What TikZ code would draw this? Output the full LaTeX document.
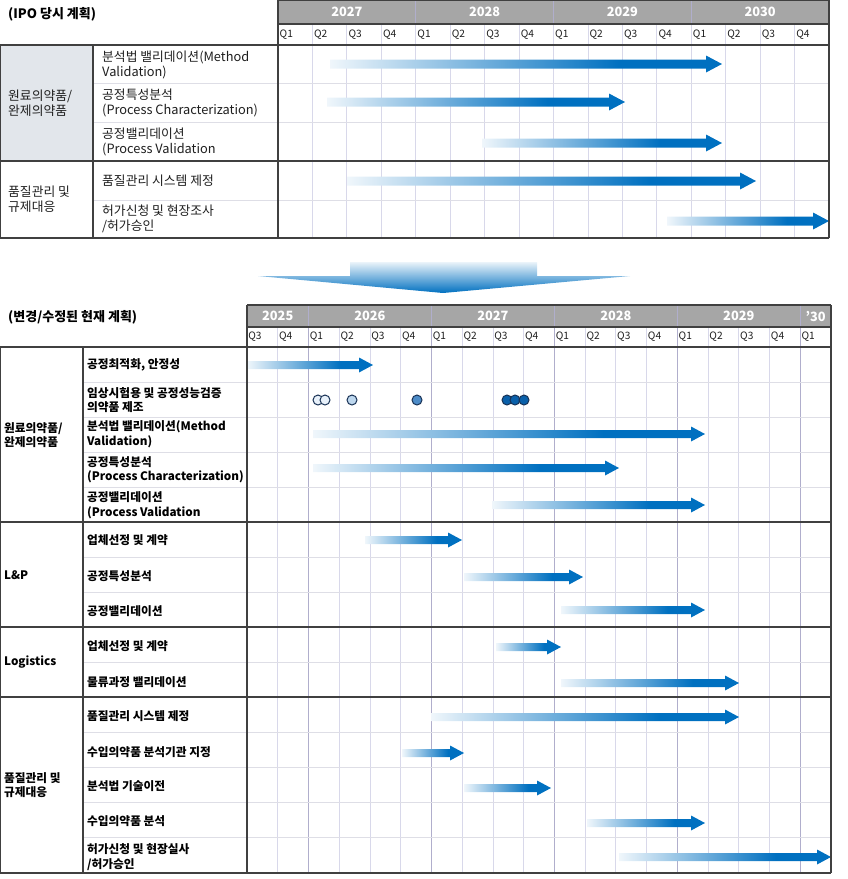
\documentclass[tikz,border=0pt]{standalone}
\usepackage{fontspec}
\setmainfont{Noto Sans CJK KR}
\definecolor{gblue}{RGB}{0,112,192}
\definecolor{hdrgray}{RGB}{166,166,166}
\definecolor{gridc}{RGB}{216,216,234}
\definecolor{yrline}{RGB}{176,174,204}
\definecolor{rowc}{RGB}{222,222,230}
\definecolor{darkln}{RGB}{64,64,64}
\definecolor{grpfill}{RGB}{226,230,235}
\definecolor{txt}{RGB}{30,30,30}
\definecolor{dotln}{RGB}{25,50,85}
\definecolor{dotA}{RGB}{232,241,250}
\definecolor{dotB}{RGB}{189,215,238}
\definecolor{dotC}{RGB}{77,140,200}
\definecolor{dotD}{RGB}{10,96,170}
\pgfdeclarehorizontalshading{gshade}{100bp}{color(0bp)=(gblue!6); color(25bp)=(gblue!6); color(62bp)=(gblue); color(100bp)=(gblue)}
\newcommand\ganttarrow[6]{%
  \shade[shading=gshade] ({#1},{#3-#4}) -- ({#2-#6},{#3-#4}) -- ({#2-#6},{#3-#5}) -- ({#2},{#3}) -- ({#2-#6},{#3+#5}) -- ({#2-#6},{#3+#4}) -- ({#1},{#3+#4}) -- cycle;}
\newcommand\toparr[3]{\ganttarrow{#1}{#2}{#3}{4.5}{8.5}{16}}
\newcommand\botarr[3]{\ganttarrow{#1}{#2}{#3}{4}{7.5}{14}}
\begin{document}
\begin{tikzpicture}[x=1pt,y=-1pt,
  lbl/.style={anchor=west, align=left, inner sep=0pt, text=txt, font=\fontsize{12.8}{15}\selectfont},
  blbl/.style={anchor=west, align=left, inner sep=0pt, text=black, font=\bfseries\fontsize{11.7}{14.5}\selectfont},
  yr/.style={text=white, font=\bfseries\fontsize{12.8}{14}\selectfont, inner sep=0pt},
  qq/.style={anchor=west, inner sep=0pt, text=txt, font=\fontsize{10.2}{11}\selectfont},
  ttl/.style={anchor=west, inner sep=0pt, text=black, font=\bfseries\fontsize{13}{15}\selectfont},
  grid/.style={gridc, line width=0.8pt},
  yrgrid/.style={yrline, line width=0.9pt},
  rowln/.style={rowc, line width=0.8pt},
  border/.style={darkln, line width=1.3pt},
  dot/.style={circle, draw=dotln, line width=1pt, minimum size=10pt, inner sep=0pt}]
\useasboundingbox (0,0) rectangle (848,879);

% ================= TOP TABLE =================
\node[ttl] (title1) at (8,14) {(IPO 당시 계획)};
\fill[hdrgray] (278,0) rectangle (829,24);
\fill[grpfill] (0,45) rectangle (93,161);
% grid
\foreach \k in {1,...,15} {
  \pgfmathsetmacro\xx{278+\k*34.4375}
  \draw[grid] (\xx,24) -- (\xx,238);
}
\foreach \k in {4,8,12} {
  \pgfmathsetmacro\xx{278+\k*34.4375}
  \draw[yrgrid] (\xx,0) -- (\xx,24);
}
\foreach \yy in {83,122,200} \draw[rowln] (93,\yy) -- (829,\yy);
% years
\foreach \lab [count=\i from 0] in {2027,2028,2029,2030} {
  \pgfmathsetmacro\xx{278+(\i*4+2)*34.4375}
  \node[yr] (ty\i) at (\xx,12) {\lab};
}
\foreach \k in {0,...,15} {
  \pgfmathsetmacro\xx{278+\k*34.4375+1.5}
  \pgfmathtruncatemacro\q{mod(\k,4)+1}
  \node[qq] (tq\k) at (\xx,35) {Q\q};
}
% arrows
\toparr{330}{722}{64}
\toparr{327}{625}{102}
\toparr{482}{722}{143}
\toparr{347}{756}{181}
\toparr{667}{829}{221}
% borders
\draw[border] (278,0.7) -- (829,0.7);
\draw[border] (278,24) -- (829,24);
\draw[border] (0,45) -- (829,45);
\draw[border] (0,161) -- (829,161);
\draw[border] (0,238) -- (829,238);
\draw[border] (0.7,45) -- (0.7,238);
\draw[border] (93,45) -- (93,238);
\draw[border] (278,0) -- (278,238);
\draw[border] (829,0) -- (829,238);
% labels
\node[lbl] (g1) at (8,103) {원료의약품/\\완제의약품};
\node[lbl] (g2) at (8,199) {품질관리 및\\규제대응};
\node[lbl] (t1) at (102,65) {분석법 밸리데이션(Method\\Validation)};
\node[lbl] (t2) at (102,103) {공정특성분석\\(Process Characterization)};
\node[lbl] (t3) at (102,142) {공정밸리데이션\\(Process Validation};
\node[lbl] (t4) at (102,181) {품질관리 시스템 제정};
\node[lbl] (t5) at (102,219) {허가신청 및 현장조사\\/허가승인};

% ================= TRANSITION ARROW =================
\shade[top color=gblue!8, bottom color=gblue] (350,262) -- (537,262) -- (537,276) -- (630,276) -- (443,293) -- (258,276) -- (350,276) -- cycle;

% ================= BOTTOM TABLE =================
\node[ttl] (title2) at (8,317) {(변경/수정된 현재 계획)};
\fill[hdrgray] (247,305) rectangle (831,327);
\foreach \k in {1,...,18} {
  \pgfmathsetmacro\xx{247+\k*30.737}
  \draw[grid] (\xx,327) -- (\xx,873);
}
\foreach \k in {2,6,10,14,18} {
  \pgfmathsetmacro\xx{247+\k*30.737}
  \draw[yrgrid] (\xx,305) -- (\xx,873);
}
\foreach \yy in {382,417,452,487,557,592,662,732,767,802,837} \draw[rowln] (83,\yy) -- (831,\yy);
% years
\node[yr] (by0) at ({247+1*30.737},316) {2025};
\node[yr] (by1) at ({247+4*30.737},316) {2026};
\node[yr] (by2) at ({247+8*30.737},316) {2027};
\node[yr] (by3) at ({247+12*30.737},316) {2028};
\node[yr] (by4) at ({247+16*30.737},316) {2029};
\node[yr] (by5) at ({247+18.5*30.737},316) {’30};
\foreach \k in {0,...,18} {
  \pgfmathsetmacro\xx{247+\k*30.737+1.2}
  \pgfmathtruncatemacro\q{mod(\k+2,4)+1}
  \node[qq] (bq\k) at (\xx,337) {Q\q};
}
% arrows
\botarr{247}{373}{365}
\botarr{313}{705}{434}
\botarr{313}{619}{468}
\botarr{492}{705}{505}
\botarr{365}{462}{540}
\botarr{464}{583}{577}
\botarr{561}{705}{610}
\botarr{496}{561}{647}
\botarr{561}{739}{683}
\botarr{431}{739}{717}
\botarr{402}{464}{753}
\botarr{464}{551}{788}
\botarr{587}{705}{823}
\botarr{619}{831}{857}
% dots
\node[dot, fill=dotA] (d1) at (318,400) {};
\node[dot, fill=dotA] (d2) at (325,400) {};
\node[dot, fill=dotB] (d3) at (352,400) {};
\node[dot, fill=dotC] (d4) at (417,400) {};
\node[dot, fill=dotD] (d5) at (507,400) {};
\node[dot, fill=dotD] (d6) at (515,400) {};
\node[dot, fill=dotD] (d7) at (524,400) {};
% borders
\draw[border] (247,305) -- (831,305);
\draw[border] (247,327) -- (831,327);
\foreach \yy in {347,522,627,697,873} \draw[border] (0,\yy) -- (831,\yy);
\draw[border] (0.7,347) -- (0.7,873);
\draw[border] (83,347) -- (83,873);
\draw[border] (247,305) -- (247,873);
\draw[border] (831,305) -- (831,873);
% group labels
\node[blbl] (h1) at (4,435) {원료의약품/\\완제의약품};
\node[blbl] (h2) at (4,575) {L\&P};
\node[blbl] (h3) at (4,662) {Logistics};
\node[blbl] (h4) at (4,785) {품질관리 및\\규제대응};
% row labels
\node[blbl] (r1) at (87,365) {공정최적화, 안정성};
\node[blbl] (r2) at (87,400) {임상시험용 및 공정성능검증\\의약품 제조};
\node[blbl] (r3) at (87,434) {분석법 밸리데이션(Method\\Validation)};
\node[blbl] (r4) at (87,470) {공정특성분석\\(Process Characterization)};
\node[blbl] (r5) at (87,505) {공정밸리데이션\\(Process Validation};
\node[blbl] (r6) at (87,540) {업체선정 및 계약};
\node[blbl] (r7) at (87,576) {공정특성분석};
\node[blbl] (r8) at (87,611) {공정밸리데이션};
\node[blbl] (r9) at (87,646) {업체선정 및 계약};
\node[blbl] (r10) at (87,682) {물류과정 밸리데이션};
\node[blbl] (r11) at (87,716) {품질관리 시스템 제정};
\node[blbl] (r12) at (87,752) {수입의약품 분석기관 지정};
\node[blbl] (r13) at (87,786) {분석법 기술이전};
\node[blbl] (r14) at (87,821) {수입의약품 분석};
\node[blbl] (r15) at (87,857) {허가신청 및 현장실사\\/허가승인};
\end{tikzpicture}
\end{document}
